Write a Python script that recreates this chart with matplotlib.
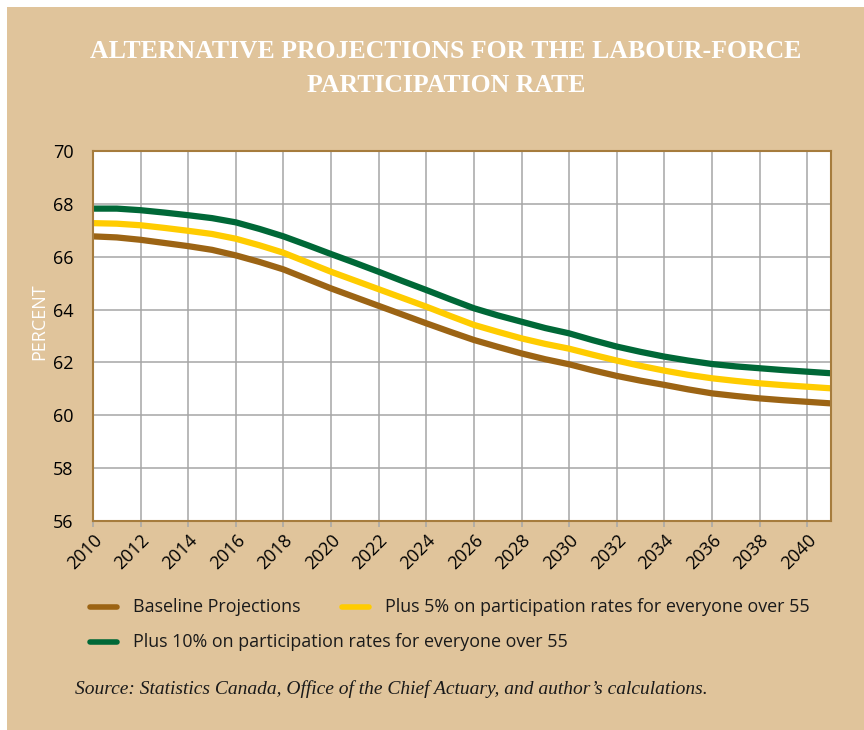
import matplotlib
matplotlib.use("Agg")
import matplotlib.pyplot as plt
from matplotlib.patches import Rectangle
from matplotlib.lines import Line2D

years = list(range(2010, 2042))

baseline = [66.77, 66.73, 66.64, 66.52, 66.40, 66.26, 66.05, 65.80, 65.52, 65.16,
            64.80, 64.47, 64.14, 63.81, 63.48, 63.16, 62.85, 62.59, 62.34, 62.12,
            61.93, 61.70, 61.49, 61.31, 61.15, 60.98, 60.83, 60.73, 60.64, 60.57,
            60.51, 60.45]
plus5 = [67.27, 67.25, 67.19, 67.09, 66.98, 66.86, 66.68, 66.43, 66.15, 65.79,
         65.43, 65.10, 64.77, 64.44, 64.11, 63.76, 63.42, 63.16, 62.91, 62.70,
         62.52, 62.29, 62.07, 61.87, 61.69, 61.53, 61.40, 61.30, 61.21, 61.14,
         61.08, 61.02]
plus10 = [67.82, 67.82, 67.76, 67.67, 67.57, 67.46, 67.30, 67.05, 66.77, 66.44,
          66.10, 65.77, 65.43, 65.08, 64.74, 64.39, 64.05, 63.78, 63.54, 63.30,
          63.10, 62.84, 62.60, 62.40, 62.22, 62.07, 61.94, 61.85, 61.78, 61.71,
          61.65, 61.59]

labels = ["Baseline Projections",
          "Plus 5% on participation rates for everyone over 55",
          "Plus 10% on participation rates for everyone over 55"]
colors = ["#9C6414", "#FFCC00", "#006837"]

x_ticks = list(range(2010, 2041, 2))
y_ticks = list(range(56, 71, 2))

bg = "#E0C49B"
sans = "Open Sans"
serif = "Liberation Serif"

W, H = 864, 730
fig = plt.figure(figsize=(W / 100, H / 100), dpi=100)
fig.patch.set_facecolor("white")
fig.patches.append(Rectangle((7 / W, 0), 1, (H - 7) / H, transform=fig.transFigure,
                             facecolor=bg, edgecolor="none", zorder=-10))

ax = fig.add_axes([93 / W, 1 - 521 / H, (831 - 93) / W, (521 - 151) / H])
ax.set_facecolor("white")

for vals, c in zip([baseline, plus5, plus10], colors):
    ax.plot(years, vals, color=c, lw=4.5, solid_capstyle="butt", zorder=3)

ax.set_xlim(2010, 2041)
ax.set_ylim(56, 70)
ax.set_xticks(x_ticks)
ax.set_yticks(y_ticks)
ax.set_xticklabels([str(t) for t in x_ticks], rotation=45, ha="right",
                   rotation_mode="anchor", fontsize=13, family=sans)
ax.set_yticklabels([str(t) for t in y_ticks], fontsize=13, family=sans)
ax.tick_params(axis="x", length=4, color="#A6A6A6", width=1.1, pad=3)
ax.tick_params(axis="y", length=0, pad=14)
ax.grid(True, color="#A6A6A6", lw=1.1, zorder=1)
for s in ax.spines.values():
    s.set_color("#A67C3D")
    s.set_linewidth(1.5)
    s.set_zorder(4)

fig.text(39 / W, 1 - 322 / H, "PERCENT", rotation=90, color="white",
         fontsize=13, family=sans, ha="center", va="center")

fig.text(446 / W, 1 - 52 / H, "ALTERNATIVE PROJECTIONS FOR THE LABOUR-FORCE",
         color="white", fontsize=18.5, family=serif, weight="bold",
         ha="center", va="center")
fig.text(446 / W, 1 - 86 / H, "PARTICIPATION RATE",
         color="white", fontsize=18.5, family=serif, weight="bold",
         ha="center", va="center")

# legend drawn by hand
legend_pos = [(88, 607), (340, 607), (88, 642)]
for (lx, ly), c, lab in zip(legend_pos, colors, labels):
    fig.add_artist(Line2D([(lx + 2) / W, (lx + 29) / W], [1 - ly / H, 1 - ly / H],
                          color=c, lw=4, solid_capstyle="round",
                          transform=fig.transFigure))
    fig.text((lx + 45) / W, 1 - ly / H, lab, fontsize=12.9, family=sans,
             color="#1a1a1a", ha="left", va="center")

fig.text(75 / W, 1 - 689 / H,
         "Source: Statistics Canada, Office of the Chief Actuary, and author\u2019s calculations.",
         fontsize=14, family=serif, style="italic", color="#1a1a1a",
         ha="left", va="center")

fig.savefig("out.png", dpi=100, facecolor=fig.get_facecolor())
